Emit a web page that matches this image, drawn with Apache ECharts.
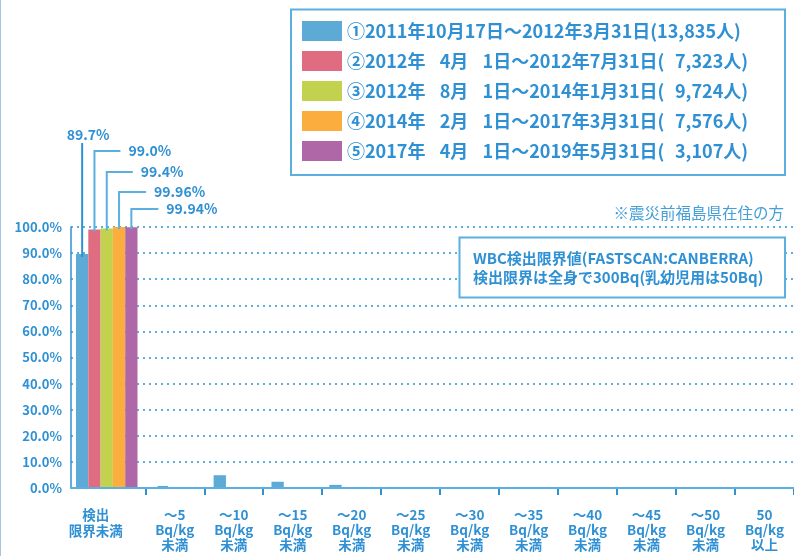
<!DOCTYPE html>
<html>
<head>
<meta charset="utf-8">
<script src="https://cdn.jsdelivr.net/npm/echarts@6/dist/echarts.min.js"></script>
<style>
html,body{margin:0;padding:0;background:#fff;}
#c{width:794px;height:556px;}
</style>
</head>
<body>
<div id="c"></div>
<script>
// ---- data ----
const categories = ['検出\n限界未満', '～5\nBq/kg\n未満', '～10\nBq/kg\n未満', '～15\nBq/kg\n未満', '～20\nBq/kg\n未満', '～25\nBq/kg\n未満', '～30\nBq/kg\n未満', '～35\nBq/kg\n未満', '～40\nBq/kg\n未満', '～45\nBq/kg\n未満', '～50\nBq/kg\n未満', '50\nBq/kg\n以上'];
const seriesNames = [
  '①2011年10月17日～2012年3月31日(13,835人)',
  '②2012年\u2007\u20094月\u2007\u20091日～2012年7月31日(\u20077,323人)',
  '③2012年\u2007\u20098月\u2007\u20091日～2014年1月31日(\u20079,724人)',
  '④2014年\u2007\u20092月\u2007\u20091日～2017年3月31日(\u20077,576人)',
  '⑤2017年\u2007\u20094月\u2007\u20091日～2019年5月31日(\u20073,107人)'
];
const period1 = [89.7, 0.8, 4.9, 2.4, 1.2, 0.4, 0.2, 0.1, 0.1, 0.05, 0.03, 0.02];
const period2 = [99.0, 0.4, 0.4, 0.1, 0.05, 0.02, 0.01, 0.01, 0.01, 0, 0, 0];
const period3 = [99.4, 0.2, 0.3, 0.05, 0.03, 0.01, 0.01, 0, 0, 0, 0, 0];
const period4 = [99.96, 0.03, 0.01, 0, 0, 0, 0, 0, 0, 0, 0, 0];
const period5 = [99.94, 0.04, 0.02, 0, 0, 0, 0, 0, 0, 0, 0, 0];
const valueLabels = ['89.7%', '99.0%', '99.4%', '99.96%', '99.94%'];
const noteText = '※震災前福島県在住の方';
const boxLines = ['WBC検出限界値(FASTSCAN:CANBERRA)', '検出限界は全身で300Bq(乳幼児用は50Bq)'];

// ---- styles ----
const periods = [period1, period2, period3, period4, period5];
const colors = ['#5eaad6', '#e06c82', '#c2d24f', '#fbad3d', '#b067a7'];
const TXT = '#2f90d3';
const LIGHT = '#5cb0e0';
const FONT = '"Noto Sans CJK JP", "Noto Sans", sans-serif';
const BW = 12.3;

const chart = echarts.init(document.getElementById('c'), null, {renderer: 'canvas'});

const series = [];
periods.forEach((p, i) => {
  series.push({
    type: 'bar', name: seriesNames[i], xAxisIndex: 3, yAxisIndex: 3,
    data: [p[0]], barWidth: BW, barGap: '0%', itemStyle: {color: colors[i]}, z: 2
  });
});
periods.forEach((p, i) => {
  series.push({
    type: 'bar', name: seriesNames[i], xAxisIndex: 2, yAxisIndex: 2,
    data: p.slice(1), barWidth: BW, barGap: '0%', itemStyle: {color: colors[i]}, z: 2
  });
});

const hiddenY = (g) => ({type: 'value', gridIndex: g, min: 0, max: 100, show: false});

chart.setOption({
  animation: false,
  textStyle: {fontFamily: FONT},
  color: colors,
  grid: [
    {left: 71, right: 0, top: 227, bottom: 68},
    {left: 86.3, width: 716.4, top: 227, bottom: 68},
    {left: 157.6, width: 656.7, top: 227, bottom: 68},
    {left: 76, width: 61.5, top: 227, bottom: 68}
  ],
  legend: {
    data: seriesNames, orient: 'vertical', left: 302, top: 21, padding: 0,
    itemWidth: 40, itemHeight: 20, itemGap: 10, icon: 'rect', selectedMode: false,
    textStyle: {color: TXT, fontSize: 18, fontWeight: 'bold', fontFamily: FONT}
  },
  xAxis: [
    {type: 'category', gridIndex: 0, data: [''], z: 5,
      axisLine: {show: true, lineStyle: {color: LIGHT, width: 2}},
      axisTick: {show: false}, axisLabel: {show: false}, splitLine: {show: false}},
    {type: 'category', gridIndex: 1, data: categories,
      axisLine: {show: false},
      axisTick: {show: true, length: 7, interval: (idx) => idx !== 0, lineStyle: {color: TXT, width: 2}},
      axisLabel: {
        interval: 0, margin: 19, color: TXT, fontSize: 13.5, fontWeight: 'bold', lineHeight: 15, fontFamily: FONT,
        formatter: (v, i) => i === 0 ? v.split('\n').map(s => '{a|' + s + '}').join('\n') : v,
        rich: {a: {color: TXT, fontSize: 13.5, fontWeight: 'bold', lineHeight: 16, padding: [0, 40, 0, 0], fontFamily: FONT}}
      }},
    {type: 'category', gridIndex: 2, data: categories.slice(1), show: false},
    {type: 'category', gridIndex: 3, data: categories.slice(0, 1), show: false}
  ],
  yAxis: [
    {type: 'value', gridIndex: 0, min: 0, max: 100, interval: 10,
      axisLine: {show: true, lineStyle: {color: TXT, width: 1.5}},
      axisTick: {show: false},
      axisLabel: {margin: 9, color: TXT, fontSize: 13, fontWeight: 'bold', fontFamily: FONT,
        formatter: (v) => v.toFixed(1) + '%'},
      splitLine: {show: true, lineStyle: {color: LIGHT, width: 2, type: [2, 4]}}},
    hiddenY(1), hiddenY(2), hiddenY(3)
  ],
  series: series
});

// ---- annotations computed from the axes ----
const firstVals = periods.map(p => p[0]);
const center = chart.convertToPixel({gridIndex: 3}, [0, 0]);
const labelY = [135, 151, 172, 192, 209];
const seg = [0, 26, 26, 27, 27];
const g = [];
g.push({type: 'line', shape: {x1: 0.5, y1: 0, x2: 0.5, y2: 556}, style: {stroke: '#a8c4e4', lineWidth: 1}, z: 10});
g.push({type: 'rect', shape: {x: 291, y: 9.5, width: 494, height: 165.5}, style: {fill: null, stroke: LIGHT, lineWidth: 2}, z: 10});
g.push({type: 'text', x: 784, y: 213, style: {text: noteText, fill: '#45a0d8', font: '15.5px ' + FONT, align: 'right', verticalAlign: 'middle'}, z: 10});
g.push({type: 'rect', shape: {x: 459.5, y: 237.5, width: 325.5, height: 60}, style: {fill: '#fff', stroke: LIGHT, lineWidth: 2}, z: 10});
boxLines.forEach((t, i) => {
  g.push({type: 'text', x: 473, y: 258 + i * 19, style: {text: t, fill: TXT, font: 'bold 15px ' + FONT, align: 'left', verticalAlign: 'middle'}, z: 11});
});
firstVals.forEach((v, i) => {
  const cx = center[0] + (i - 2) * BW;
  const top = chart.convertToPixel({gridIndex: 3}, [0, v])[1];
  if (i === 0) {
    g.push({type: 'line', shape: {x1: cx, y1: labelY[0] + 8, x2: cx, y2: top + 3}, style: {stroke: TXT, lineWidth: 2}, z: 10});
    g.push({type: 'text', x: cx + 6, y: labelY[0], style: {text: valueLabels[i], fill: TXT, font: 'bold 14px ' + FONT, align: 'center', verticalAlign: 'middle'}, z: 10});
  } else {
    g.push({type: 'polyline', shape: {points: [[cx + seg[i], labelY[i]], [cx, labelY[i]], [cx, top + 2]]}, style: {stroke: LIGHT, lineWidth: 2, fill: null}, z: 10});
    g.push({type: 'text', x: cx + seg[i] + 8, y: labelY[i], style: {text: valueLabels[i], fill: TXT, font: 'bold 14px ' + FONT, align: 'left', verticalAlign: 'middle'}, z: 10});
  }
});
chart.setOption({graphic: g});
</script>
</body>
</html>
